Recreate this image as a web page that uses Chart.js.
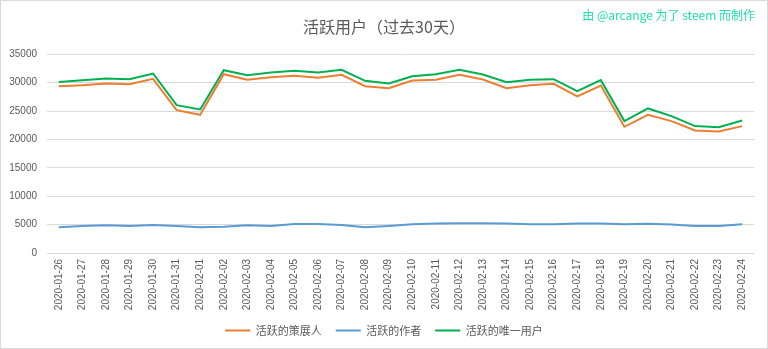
<!DOCTYPE html>
<html>
<head>
<meta charset="utf-8">
<script src="https://cdn.jsdelivr.net/npm/chart.js@4"></script>
<style>
  html, body { margin: 0; padding: 0; background: #ffffff; }
  #wrap { width: 768px; height: 349px; }
</style>
</head>
<body>
<div id="wrap"><canvas id="c" width="768" height="349"></canvas></div>
<script>
// Daily dates, last 30 days
const dates = [
  '2020-01-26','2020-01-27','2020-01-28','2020-01-29','2020-01-30','2020-01-31',
  '2020-02-01','2020-02-02','2020-02-03','2020-02-04','2020-02-05','2020-02-06',
  '2020-02-07','2020-02-08','2020-02-09','2020-02-10','2020-02-11','2020-02-12',
  '2020-02-13','2020-02-14','2020-02-15','2020-02-16','2020-02-17','2020-02-18',
  '2020-02-19','2020-02-20','2020-02-21','2020-02-22','2020-02-23','2020-02-24'
];

// Active curators
const curators = [
  29370, 29550, 29850, 29730, 30660, 25150,
  24330, 31480, 30490, 30960, 31190, 30840,
  31370, 29370, 29020, 30370, 30490, 31370,
  30550, 29020, 29550, 29790, 27560, 29490,
  22220, 24330, 23220, 21580, 21400, 22340
];

// Active authors
const authors = [
  4520, 4750, 4870, 4750, 4920, 4750,
  4550, 4600, 4900, 4750, 5100, 5100,
  4950, 4520, 4750, 5050, 5200, 5250,
  5250, 5200, 5040, 5050, 5200, 5200,
  5050, 5150, 5000, 4750, 4750, 5050
];

// Active unique users
const uniqueUsers = [
  30100, 30430, 30720, 30600, 31600, 26030,
  25270, 32190, 31310, 31780, 32070, 31780,
  32250, 30310, 29850, 31130, 31480, 32250,
  31430, 30080, 30490, 30600, 28500, 30430,
  23220, 25450, 24100, 22340, 22160, 23340
];

const yTicks = [0, 5000, 10000, 15000, 20000, 25000, 30000, 35000];

const TEXT = '#595959';
const GRID = '#d9d9d9';
const CJK = '"Noto Sans CJK SC", "Liberation Sans", sans-serif';

// White background, thin frame and the credit line in the corner
const frame = {
  id: 'frame',
  beforeDraw(chart) {
    const ctx = chart.ctx;
    ctx.save();
    ctx.fillStyle = '#ffffff';
    ctx.fillRect(0, 0, chart.width, chart.height);
    ctx.strokeStyle = GRID;
    ctx.lineWidth = 1;
    ctx.strokeRect(0.5, 0.5, chart.width - 1, chart.height - 1);
    ctx.restore();
  },
  afterDraw(chart) {
    const ctx = chart.ctx;
    ctx.save();
    ctx.font = '12px ' + CJK;
    ctx.fillStyle = '#1fddb0';
    ctx.textAlign = 'right';
    ctx.textBaseline = 'middle';
    ctx.fillText('由 @arcange 为了 steem 而制作', 755, 15);
    ctx.restore();
  }
};

function series(label, data, color) {
  return {
    label: label,
    data: data,
    borderColor: color,
    backgroundColor: color,
    borderWidth: 2,
    pointRadius: 0,
    pointHoverRadius: 0,
    tension: 0,
    fill: false
  };
}

new Chart(document.getElementById('c'), {
  type: 'line',
  data: {
    labels: dates,
    datasets: [
      series('活跃的策展人', curators, '#ED7D31'),
      series('活跃的作者', authors, '#5B9BD5'),
      series('活跃的唯一用户', uniqueUsers, '#00B050')
    ]
  },
  plugins: [frame],
  options: {
    responsive: false,
    animation: false,
    layout: { padding: { left: 0, right: 0, top: 0, bottom: 3 } },
    plugins: {
      title: {
        display: true,
        text: '活跃用户（过去30天）',
        color: TEXT,
        font: { family: CJK, size: 16, weight: 'normal' },
        padding: { top: 17, bottom: 18 }
      },
      legend: {
        position: 'bottom',
        labels: {
          color: TEXT,
          font: { family: CJK, size: 11 },
          boxWidth: 25,
          boxHeight: 0,
          padding: 14
        }
      },
      tooltip: { enabled: false }
    },
    scales: {
      x: {
        offset: true,
        grid: { display: false, drawTicks: false },
        border: { display: false },
        ticks: {
          color: TEXT,
          font: { family: '"Liberation Sans", sans-serif', size: 10 },
          maxRotation: 90,
          minRotation: 90,
          autoSkip: false,
          padding: 6
        },
        afterFit(scale) { scale.height = 58; }
      },
      y: {
        min: 0,
        max: 35000,
        afterBuildTicks(scale) { scale.ticks = yTicks.map(v => ({ value: v })); },
        grid: { color: GRID, lineWidth: 1, drawTicks: false },
        border: { display: false },
        ticks: {
          color: TEXT,
          font: { family: '"Liberation Sans", sans-serif', size: 10 },
          padding: 10,
          callback: (v) => String(v)
        },
        afterFit(scale) { scale.width = 47; }
      },
      // empty right-hand margin so the plot ends before the frame
      yRight: {
        position: 'right',
        min: 0,
        max: 35000,
        grid: { drawOnChartArea: false, drawTicks: false },
        border: { display: false },
        ticks: { display: false },
        afterFit(scale) { scale.width = 14; }
      }
    }
  }
});
</script>
</body>
</html>
